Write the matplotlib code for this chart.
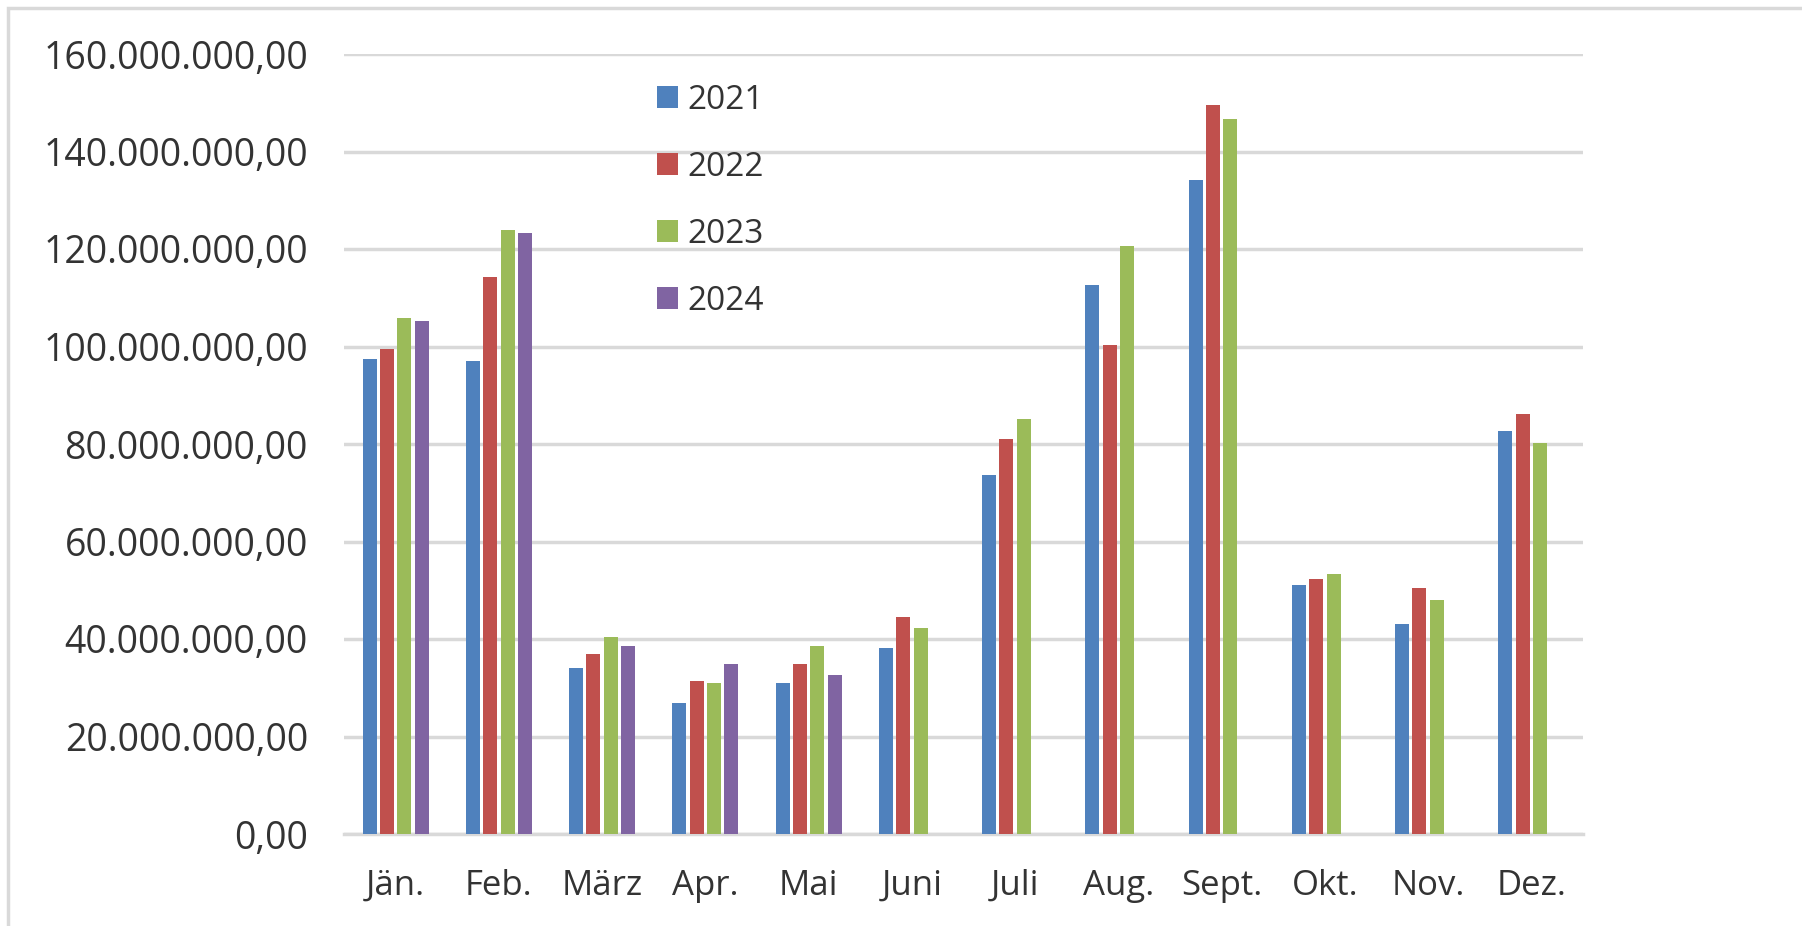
import numpy as np
import matplotlib
matplotlib.use('Agg')
import matplotlib.pyplot as plt
from matplotlib.patches import Rectangle
from matplotlib.ticker import FuncFormatter, MultipleLocator

plt.rcParams['font.family'] = ['Open Sans', 'DejaVu Sans']

months = ['Jän.', 'Feb.', 'März', 'Apr.', 'Mai', 'Juni', 'Juli', 'Aug.', 'Sept.', 'Okt.', 'Nov.', 'Dez.']
years = ['2021', '2022', '2023', '2024']

# monthly amounts in millions
v2021 = [97.4, 97.1, 34.0, 26.9, 31.0, 38.2, 73.6, 112.6, 134.2, 51.0, 43.0, 82.6]
v2022 = [99.4, 114.2, 36.9, 31.4, 34.9, 44.6, 81.0, 100.3, 149.6, 52.3, 50.4, 86.2]
v2023 = [105.8, 123.9, 40.4, 31.0, 38.5, 42.3, 85.2, 120.6, 146.7, 53.3, 48.1, 80.3]
v2024 = [105.2, 123.2, 38.5, 34.9, 32.7, np.nan, np.nan, np.nan, np.nan, np.nan, np.nan, np.nan]

colors = ['#4F81BD', '#C0504D', '#9BBB59', '#8064A2']
grid_col = '#D9D9D9'
text_col = '#333333'

W, H = 1802, 926
fig = plt.figure(figsize=(W / 100, H / 100), dpi=100)
ax = fig.add_axes([344 / W, 1 - 834 / H, (1583 - 344) / W, (834 - 54) / H])

x = np.arange(len(months))
step = 0.168
width = 0.135
for k, (vals, year) in enumerate(zip([v2021, v2022, v2023, v2024], years)):
    ax.bar(x + (k - 1.5) * step, np.array(vals) * 1e6, width=width,
           color=colors[k], label=year, zorder=3)

ax.set_xlim(-0.5, len(months) - 0.5)
ax.set_ylim(0, 160e6)
ax.yaxis.set_major_locator(MultipleLocator(20e6))


def de_fmt(v, pos):
    s = '{:,.2f}'.format(v)
    return s.replace(',', 'X').replace('.', ',').replace('X', '.')


ax.yaxis.set_major_formatter(FuncFormatter(de_fmt))
ax.set_xticks(x)
ax.set_xticklabels(months)
ax.grid(axis='y', color=grid_col, linewidth=2.5, zorder=0)
ax.tick_params(axis='both', length=0, colors=text_col)
ax.tick_params(axis='y', labelsize=27, pad=26)
ax.tick_params(axis='x', labelsize=25, pad=25)
for s in ['top', 'right', 'left']:
    ax.spines[s].set_visible(False)
ax.spines['bottom'].set_color(grid_col)
ax.spines['bottom'].set_linewidth(2.5)

leg = ax.legend(loc='upper left', bbox_to_anchor=(657 / W, 1 - 84 / H),
                bbox_transform=fig.transFigure, frameon=False, fontsize=24,
                handlelength=0.62, handleheight=0.62, handletextpad=0.3,
                labelspacing=1.02, borderpad=0, borderaxespad=0)
for t in leg.get_texts():
    t.set_color(text_col)

# light outer frame
fig.patches.append(Rectangle((8 / W, -0.2), 1.5, 1.2 - 8 / H, transform=fig.transFigure,
                             fill=False, edgecolor=grid_col, linewidth=2.5, clip_on=False))

fig.savefig('out.png', dpi=100)
